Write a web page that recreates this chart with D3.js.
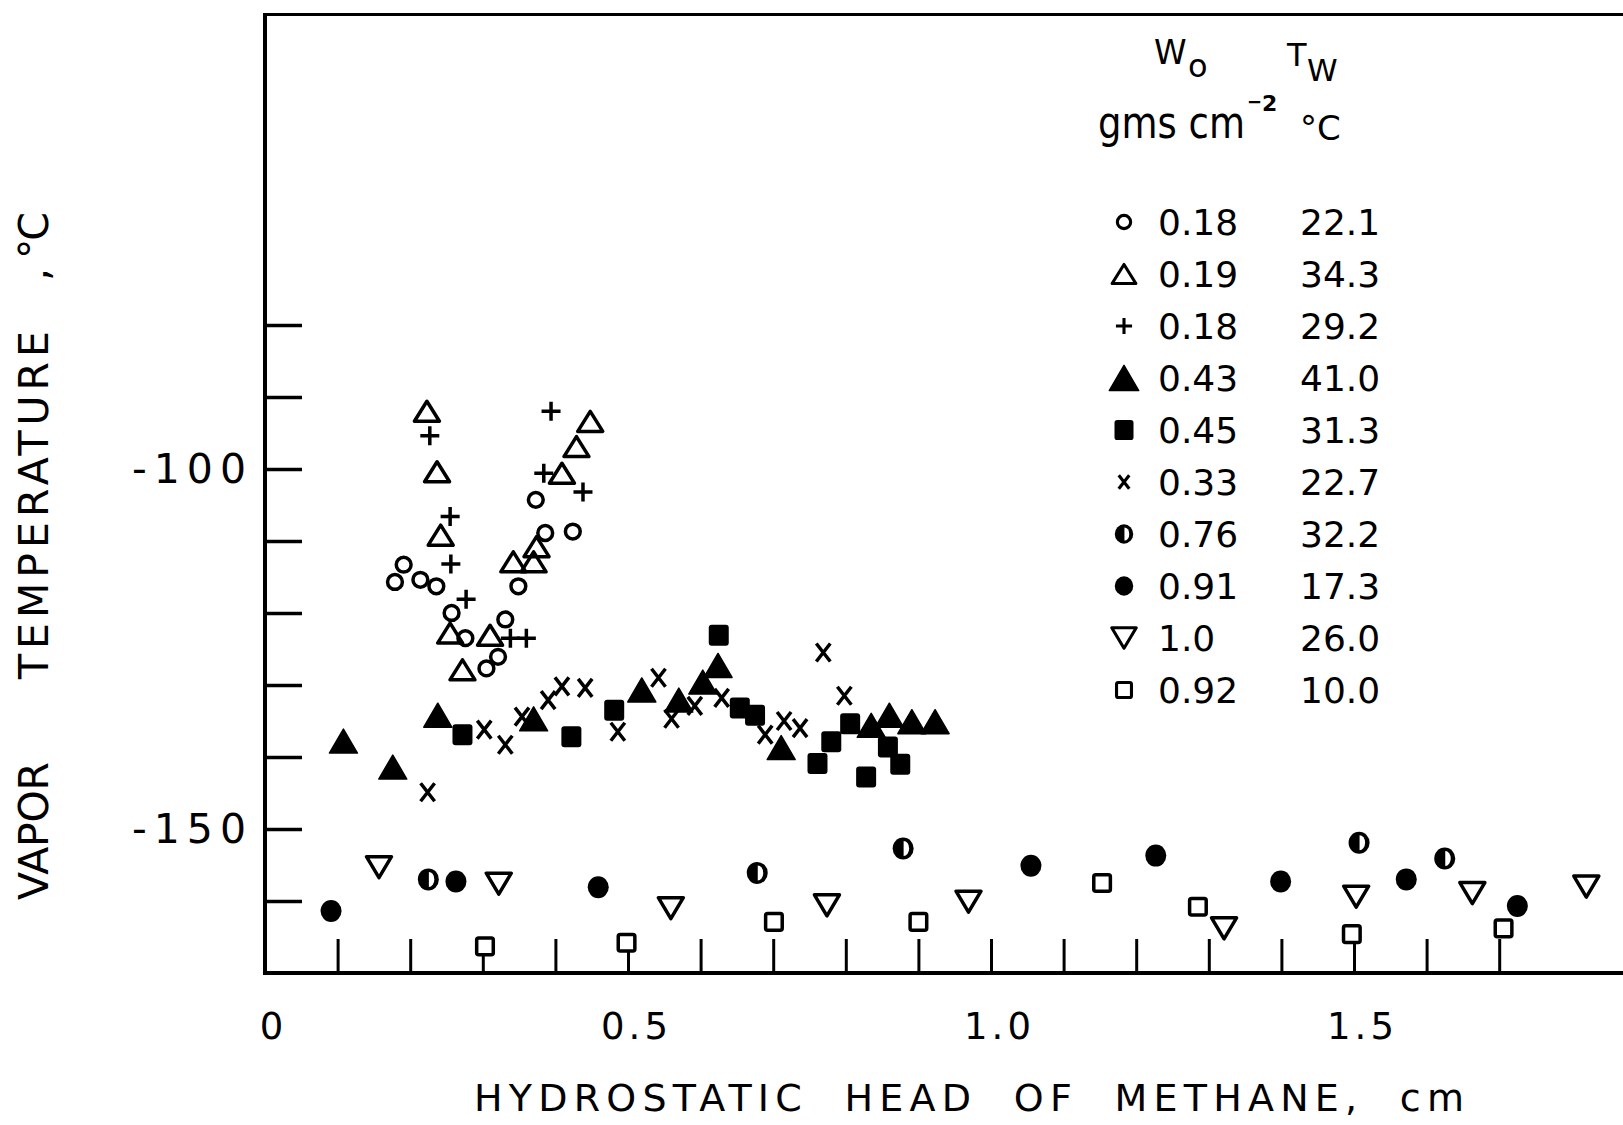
<!DOCTYPE html>
<html>
<head>
<meta charset="utf-8">
<script src="https://cdn.jsdelivr.net/npm/d3@7"></script>
<style>
  html, body { margin: 0; padding: 0; background: #fff; }
  svg { display: block; }
  text { font-family: "DejaVu Sans", "Liberation Sans", sans-serif; fill: #000; }
</style>
</head>
<body>
<svg id="chart" width="1623" height="1125"></svg>
<script>
// ---- Legend table: initial loading W0 (gms cm^-2) and wall temperature Tw (°C) ----
const seriesW0    = ["0.18", "0.19", "0.18", "0.43", "0.45", "0.33", "0.76", "0.91", "1.0", "0.92"];
const seriesTw    = ["22.1", "34.3", "29.2", "41.0", "31.3", "22.7", "32.2", "17.3", "26.0", "10.0"];
const seriesShape = ["openCircle", "openTriangle", "plus", "filledTriangle", "filledSquare",
                     "cross", "halfCircle", "filledCircle", "openDownTriangle", "openSquare"];

// ---- Measurements: [hydrostatic head (cm), vapor temperature (°C)] ----
const ptsOpenCircle = [[0.179,-115.7],[0.191,-113.3],[0.214,-115.4],[0.236,-116.3],[0.257,-120.0],
  [0.276,-123.5],[0.305,-127.7],[0.321,-126.1],[0.331,-120.9],[0.349,-116.3],[0.373,-104.3],
  [0.386,-108.9],[0.424,-108.7]];
const ptsOpenTriangle = [[0.223,-92.0],[0.237,-100.4],[0.242,-109.2],[0.255,-122.8],[0.272,-127.9],
  [0.310,-123.1],[0.342,-112.9],[0.370,-112.9],[0.374,-110.8],[0.409,-100.6],[0.429,-96.9],[0.448,-93.4]];
const ptsPlus = [[0.227,-95.4],[0.255,-106.6],[0.256,-113.2],[0.277,-118.1],[0.338,-123.5],
  [0.360,-123.5],[0.384,-100.6],[0.394,-92.0],[0.438,-103.2]];
const ptsFilledTriangle = [[0.108,-137.8],[0.176,-141.4],[0.238,-134.2],[0.370,-134.7],[0.519,-130.7],
  [0.570,-132.1],[0.603,-129.6],[0.624,-127.3],[0.711,-138.7],[0.835,-135.6],[0.860,-134.2],
  [0.891,-135.1],[0.923,-135.1]];
const ptsFilledSquare = [[0.272,-136.9],[0.422,-137.2],[0.481,-133.5],[0.625,-123.1],[0.654,-133.2],
  [0.675,-134.2],[0.761,-140.9],[0.780,-137.9],[0.806,-135.4],[0.828,-142.8],[0.858,-138.6],[0.875,-141.0]];
const ptsCross = [[0.224,-144.9],[0.302,-136.2],[0.331,-138.3],[0.354,-134.4],[0.390,-132.1],
  [0.409,-130.2],[0.441,-130.4],[0.486,-136.5],[0.542,-129.0],[0.560,-134.7],[0.592,-132.9],
  [0.629,-131.8],[0.689,-136.9],[0.715,-135.0],[0.737,-136.0],[0.769,-125.5],[0.798,-131.5]];
const ptsHalfCircle = [[0.225,-157.0],[0.678,-156.1],[0.879,-152.7],[1.507,-151.9],[1.625,-154.1]];
const ptsFilledCircle = [[0.091,-161.4],[0.263,-157.3],[0.459,-158.1],[1.055,-155.1],[1.227,-153.7],
  [1.399,-157.3],[1.572,-157.0],[1.725,-160.7]];
const ptsOpenDownTriangle = [[0.157,-155.3],[0.322,-157.6],[0.559,-161.0],[0.774,-160.6],[0.969,-160.1],
  [1.321,-163.8],[1.503,-159.4],[1.663,-158.9],[1.820,-158.0]];
const ptsOpenSquare = [[0.303,-166.3],[0.498,-165.8],[0.701,-162.9],[0.900,-162.9],[1.153,-157.5],
  [1.285,-160.8],[1.497,-164.6],[1.706,-163.8]];

const seriesPoints = [ptsOpenCircle, ptsOpenTriangle, ptsPlus, ptsFilledTriangle, ptsFilledSquare,
  ptsCross, ptsHalfCircle, ptsFilledCircle, ptsOpenDownTriangle, ptsOpenSquare];

// ---- Axis ticks and labels ----
const yTickValues  = [-80, -90, -100, -110, -120, -130, -140, -150, -160];
const yLabelValues = [-100, -150];
const xTickValues  = [0.1, 0.2, 0.3, 0.4, 0.5, 0.6, 0.7, 0.8, 0.9, 1.0, 1.1, 1.2, 1.3, 1.4, 1.5, 1.6, 1.7];
const xLabelValues = [0, 0.5, 1.0, 1.5];
const xLabelText   = ["0", "0.5", "1.0", "1.5"];

const xTitle = "HYDROSTATIC\u00A0\u00A0HEAD\u00A0\u00A0OF\u00A0\u00A0METHANE,\u00A0\u00A0cm";
const yTitleParts = ["VAPOR", "TEMPERATURE", ", °C"];

// ---- Layout ----
const W = 1623, H = 1125;
const plotLeft = 265, plotTop = 14.5, plotBottom = 973;
const pxPerCm = 726;

const svg = d3.select("#chart");
svg.append("rect").attr("width", W).attr("height", H).attr("fill", "#fff");

const x = d3.scaleLinear().domain([0, 1.9]).range([plotLeft, plotLeft + 1.9 * pxPerCm]);
const y = d3.scaleLinear().domain([-170, -36.9]).range([plotBottom, plotTop]);

// Y ticks point into the plot; only -100 and -150 are labelled
const yAxis = svg.append("g")
  .attr("transform", `translate(${plotLeft},0)`)
  .attr("color", "#000")
  .call(d3.axisLeft(y).tickValues(yTickValues).tickSize(-37).tickPadding(12)
    .tickFormat(d => yLabelValues.includes(d) ? String(d) : ""));
yAxis.select(".domain").remove();
yAxis.selectAll("line").attr("stroke-width", 3.5);
yAxis.selectAll("text")
  .style("font-family", '"DejaVu Sans", sans-serif')
  .style("font-size", "41px")
  .style("letter-spacing", "7px");

// X tick marks rising from the base line
const xTicks = svg.append("g")
  .attr("transform", `translate(0,${plotBottom})`)
  .attr("color", "#000")
  .call(d3.axisBottom(x).tickValues(xTickValues).tickSize(-34).tickFormat(""));
xTicks.select(".domain").remove();
xTicks.selectAll("line").attr("stroke-width", 3);

// X labels
const xLabels = svg.append("g")
  .attr("transform", `translate(0,${plotBottom})`)
  .attr("color", "#000")
  .call(d3.axisBottom(x).tickValues(xLabelValues).tickSize(0).tickPadding(40)
    .tickFormat((d, i) => xLabelText[i]));
xLabels.select(".domain").remove();
xLabels.selectAll("text")
  .attr("dx", 8)
  .style("font-family", '"DejaVu Sans", sans-serif')
  .style("font-size", "37px")
  .style("letter-spacing", "4px");

// Frame: left axis, top border, base line (open on the right)
const frame = svg.append("g").attr("stroke", "#000").attr("fill", "none");
frame.append("line").attr("x1", plotLeft).attr("x2", plotLeft).attr("y1", plotTop - 1.5).attr("y2", plotBottom + 2).attr("stroke-width", 4);
frame.append("line").attr("x1", plotLeft).attr("x2", W).attr("y1", plotTop).attr("y2", plotTop).attr("stroke-width", 3);
frame.append("line").attr("x1", plotLeft - 2).attr("x2", W).attr("y1", plotBottom).attr("y2", plotBottom).attr("stroke-width", 4);

// ---- Marker shapes ----
function drawShape(g, shape, k, sw) {
  const tri = (w, h) => `M0,${-h/2}L${w/2},${h/2}L${-w/2},${h/2}Z`;
  const dtri = (w, h) => `M${-w/2},${-h/2}L${w/2},${-h/2}L0,${h/2}Z`;
  switch (shape) {
    case "openCircle":
      g.append("circle").attr("r", 7.4 * k).attr("fill", "none").attr("stroke", "#000").attr("stroke-width", sw);
      break;
    case "openTriangle":
      g.append("path").attr("d", tri(25 * k, 20 * k)).attr("fill", "none").attr("stroke", "#000")
        .attr("stroke-width", sw).attr("stroke-linejoin", "round");
      break;
    case "plus": {
      const a = 9.5 * k;
      g.append("path").attr("d", `M${-a},0H${a}M0,${-a}V${a}`).attr("stroke", "#000").attr("stroke-width", sw);
      break;
    }
    case "filledTriangle":
      g.append("path").attr("d", tri(28 * k, 24 * k)).attr("fill", "#000").attr("stroke", "#000")
        .attr("stroke-width", 1.5).attr("stroke-linejoin", "round");
      break;
    case "filledSquare":
      g.append("rect").attr("x", -10 * k).attr("y", -10.5 * k).attr("width", 20 * k).attr("height", 21 * k)
        .attr("rx", 3 * k).attr("fill", "#000");
      break;
    case "cross": {
      const a = 7 * k, b = 9 * k;
      g.append("path").attr("d", `M${-a},${-b}L${a},${b}M${a},${-b}L${-a},${b}`)
        .attr("stroke", "#000").attr("stroke-width", sw);
      break;
    }
    case "halfCircle":
      g.append("ellipse").attr("rx", 10.5 * k).attr("ry", 11 * k).attr("fill", "#000");
      g.append("path")
        .attr("d", `M${0.5 * k},${-7.5 * k}A${5.5 * k},${7.5 * k} 0 0 1 ${0.5 * k},${7.5 * k}Z`)
        .attr("fill", "#fff");
      break;
    case "filledCircle":
      g.append("ellipse").attr("rx", 10.5 * k).attr("ry", 11 * k).attr("fill", "#000");
      break;
    case "openDownTriangle":
      g.append("path").attr("d", dtri(25 * k, 21 * k)).attr("fill", "none").attr("stroke", "#000")
        .attr("stroke-width", sw).attr("stroke-linejoin", "round");
      break;
    case "openSquare":
      g.append("rect").attr("x", -8.3 * k).attr("y", -8.3 * k).attr("width", 16.6 * k).attr("height", 16.6 * k)
        .attr("rx", 2 * k).attr("fill", "#fff").attr("stroke", "#000").attr("stroke-width", sw);
      break;
  }
}

// Legend symbol scale per shape
const legendScale = { openCircle: 0.9, openTriangle: 0.95, plus: 0.85, filledTriangle: 1.05, filledSquare: 0.95,
  cross: 0.75, halfCircle: 0.88, filledCircle: 0.88, openDownTriangle: 0.98, openSquare: 0.9 };

// ---- Data points ----
const marks = svg.append("g");
seriesPoints.forEach((pts, si) => {
  const sg = marks.append("g").attr("class", "series-" + seriesShape[si]);
  pts.forEach(p => {
    const g = sg.append("g").attr("transform", `translate(${x(p[0])},${y(p[1])})`);
    drawShape(g, seriesShape[si], 1, 3.5);
  });
});

// ---- Legend ----
const legend = svg.append("g");
const symX = 1124, woX = 1158, twX = 1300, rowTop = 222, rowStep = 52;

const hW = legend.append("text").attr("x", 1154).attr("y", 64);
hW.append("tspan").style("font-size", "33px").text("W");
hW.append("tspan").attr("x", 1188).attr("y", 77).style("font-size", "32px").text("o");

const hT = legend.append("text").attr("x", 1287).attr("y", 66);
hT.append("tspan").style("font-size", "32px").text("T");
hT.append("tspan").attr("x", 1307).attr("y", 81).style("font-size", "31px").text("W");

// Units line: "gms cm" with a raised -2 exponent
legend.append("text")
  .attr("transform", "translate(1098,138) scale(1,1.2)")
  .style("font-size", "37px")
  .text("gms cm");
const sup = legend.append("text").attr("x", 1247).attr("y", 111).style("font-weight", "bold");
sup.append("tspan").style("font-size", "18px").attr("dy", -3).text("\u2212");
sup.append("tspan").style("font-size", "22px").attr("dy", 3).text("2");
legend.append("text").attr("x", 1300).attr("y", 140).style("font-size", "34px").text("°C");

seriesShape.forEach((shape, i) => {
  const cy = rowTop + i * rowStep;
  const g = legend.append("g").attr("transform", `translate(${symX},${cy})`);
  drawShape(g, shape, legendScale[shape], 3.1);
  legend.append("text").attr("x", woX).attr("y", cy + 13).style("font-size", "36px").text(seriesW0[i]);
  legend.append("text").attr("x", twX).attr("y", cy + 13).style("font-size", "36px").text(seriesTw[i]);
});

// ---- Axis titles ----
svg.append("text")
  .attr("x", 474).attr("y", 1111)
  .attr("textLength", 990).attr("lengthAdjust", "spacing")
  .style("font-size", "38px")
  .text(xTitle);

// Vertical title set in three pieces along the left margin: [start y, end y] for each
const yTitleSpans = [[900, 762], [679, 331], [281, 212]];
yTitleParts.forEach((txt, i) => {
  const [y0, y1] = yTitleSpans[i];
  svg.append("text")
    .attr("transform", `translate(48,${y0}) rotate(-90)`)
    .attr("textLength", y0 - y1).attr("lengthAdjust", "spacing")
    .style("font-size", "41px")
    .text(txt);
});
</script>
</body>
</html>
